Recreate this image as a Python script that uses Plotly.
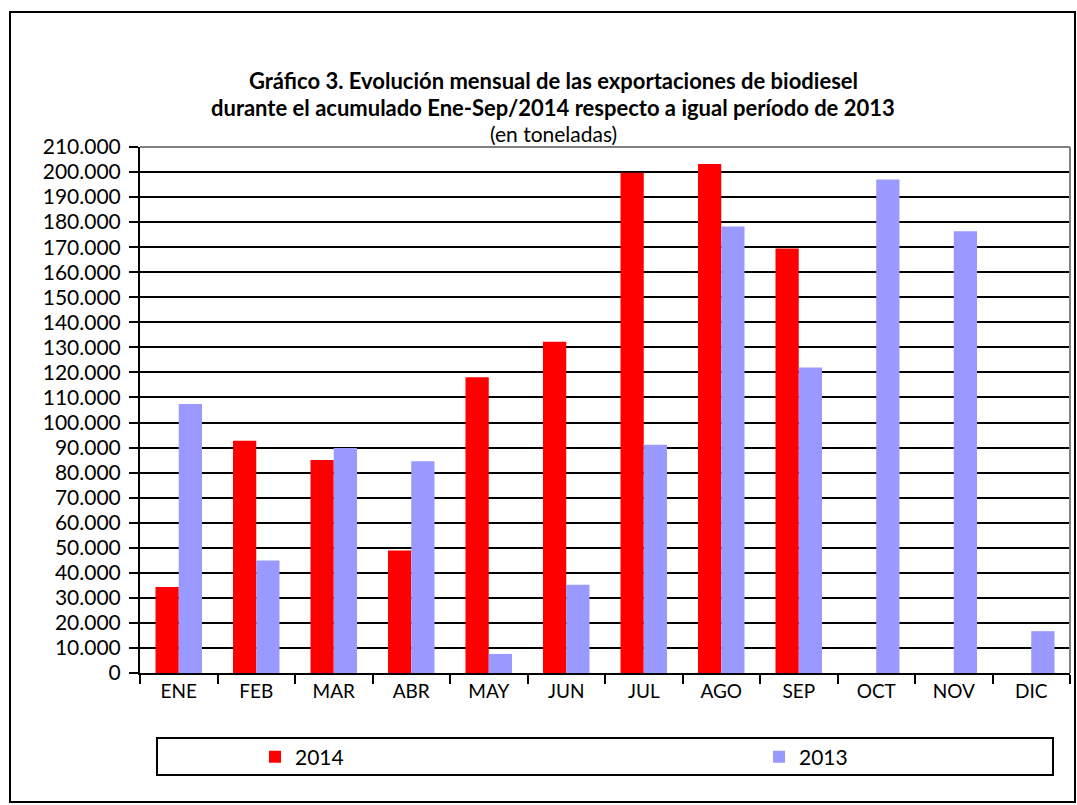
import plotly.graph_objects as go

months = ["ENE", "FEB", "MAR", "ABR", "MAY", "JUN", "JUL", "AGO", "SEP", "OCT", "NOV", "DIC"]
exp_2014 = [34300, 92700, 85000, 48900, 118100, 132200, 199700, 203200, 169500, None, None, None]
exp_2013 = [107400, 44900, 89800, 84500, 7600, 35200, 91100, 178300, 122000, 197000, 176400, 16700]

FONT = "Lato, 'Open Sans', sans-serif"

W, H = 1077, 805
L, R, T, B = 140, 7, 147, 132
PW = W - L - R
PH = H - T - B


def px_x(px):
    return (px - L) / PW


def px_y(py):
    return (H - B - py) / PH


fig = go.Figure()
fig.add_trace(go.Bar(name="2014", x=months, y=exp_2014, legend="legend",
                     marker=dict(color="#FF0000", line=dict(width=0))))
fig.add_trace(go.Bar(name="2013", x=months, y=exp_2013, legend="legend2",
                     marker=dict(color="#9999FF", line=dict(width=0))))

leg_common = dict(orientation="h", xanchor="left", y=px_y(757), yanchor="middle",
                  bgcolor="rgba(0,0,0,0)", borderwidth=0,
                  font=dict(family=FONT, size=21, color="black"))

fig.update_layout(
    width=W, height=H,
    margin=dict(l=L, r=R, t=T, b=B),
    paper_bgcolor="white", plot_bgcolor="white",
    barmode="group", bargap=0.4, bargroupgap=0,
    separators=",.",
    font=dict(family=FONT, size=20, color="black"),
    showlegend=True,
    legend=dict(x=px_x(255), **leg_common),
    legend2=dict(x=px_x(759), **leg_common),
)

fig.update_yaxes(range=[0, 210000], dtick=10000, tick0=0, tickformat=",d",
                 showgrid=True, gridcolor="black", gridwidth=2,
                 showline=True, linecolor="black", linewidth=2,
                 ticks="outside", ticklen=9, tickwidth=2, tickcolor="black",
                 ticklabelstandoff=4,
                 zeroline=False, tickfont=dict(family=FONT, size=21))
fig.update_xaxes(showline=True, linecolor="black", linewidth=2,
                 ticks="outside", tickson="boundaries", ticklen=9, tickwidth=2, tickcolor="black",
                 showgrid=False, tickfont=dict(family=FONT, size=19))

# plot-area border top/right (grey)
fig.add_shape(type="line", xref="paper", yref="paper", x0=0, x1=1, y0=1, y1=1,
              line=dict(color="#808080", width=2))
fig.add_shape(type="line", xref="paper", yref="paper", x0=1, x1=1, y0=0, y1=1,
              line=dict(color="#808080", width=2))
# outer chart border
fig.add_shape(type="rect", xref="paper", yref="paper",
              x0=px_x(10), x1=px_x(1075), y0=px_y(802), y1=px_y(12),
              line=dict(color="black", width=2))
# legend box
fig.add_shape(type="rect", xref="paper", yref="paper",
              x0=px_x(157), x1=px_x(1053), y0=px_y(775), y1=px_y(738),
              line=dict(color="black", width=2))

fig.add_annotation(xref="paper", yref="paper", x=px_x(553), y=px_y(80), xanchor="center", yanchor="middle",
                   text="<b>Gráfico 3. Evolución mensual de las exportaciones de biodiesel</b>",
                   showarrow=False, font=dict(family=FONT, size=22, color="black"))
fig.add_annotation(xref="paper", yref="paper", x=px_x(553), y=px_y(107), xanchor="center", yanchor="middle",
                   text="<b>durante el acumulado Ene-Sep/2014 respecto a igual período de 2013</b>",
                   showarrow=False, font=dict(family=FONT, size=22, color="black"))
fig.add_annotation(xref="paper", yref="paper", x=px_x(553), y=px_y(133), xanchor="center", yanchor="middle",
                   text="(en toneladas)", showarrow=False, font=dict(family=FONT, size=21, color="black"))

fig.write_html("out.html", config={"displayModeBar": False},
               post_script="document.body.style.margin='0px';")
